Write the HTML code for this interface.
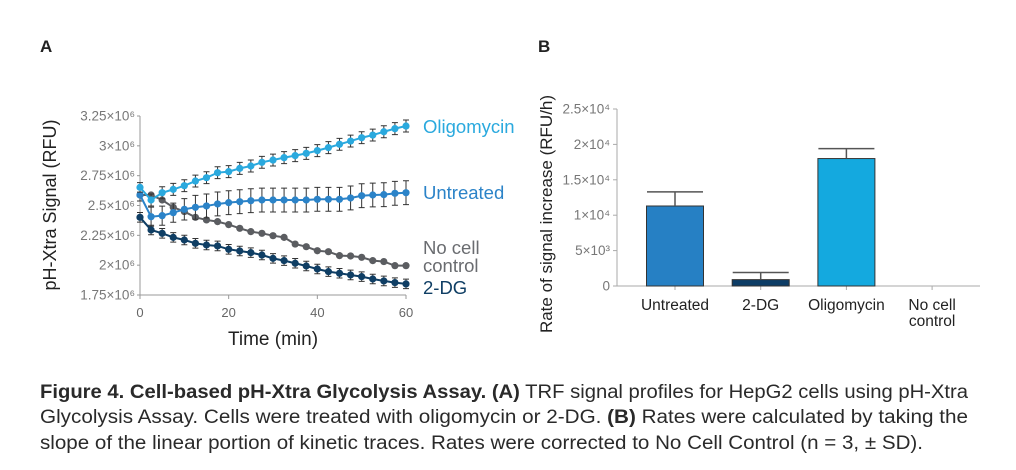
<!DOCTYPE html>
<html><head><meta charset="utf-8"><style>
html,body{margin:0;padding:0;background:#fff;}
svg{display:block;font-family:"Liberation Sans",sans-serif;}
</style></head><body>
<svg id="root" width="1016" height="470">
<text x="40" y="52" font-size="17" font-weight="bold" fill="#222">A</text>
<text x="538" y="52" font-size="17" font-weight="bold" fill="#222">B</text>
<g id="chartA"></g>
<g id="chartB"></g>
<g font-size="19" fill="#2a2a2a">
<text x="40" y="398" textLength="928" lengthAdjust="spacingAndGlyphs"><tspan font-weight="bold">Figure 4. Cell-based pH-Xtra Glycolysis Assay. (A)</tspan> TRF signal profiles for HepG2 cells using pH-Xtra</text>
<text x="40" y="423" textLength="928" lengthAdjust="spacingAndGlyphs">Glycolysis Assay. Cells were treated with oligomycin or 2-DG. <tspan font-weight="bold">(B)</tspan> Rates were calculated by taking the</text>
<text x="40" y="449" textLength="883" lengthAdjust="spacingAndGlyphs">slope of the linear portion of kinetic traces. Rates were corrected to No Cell Control (n = 3, ± SD).</text>
</g>
</svg>
<script>
const times=[0,2.5,5,7.5,10,12.5,15,17.5,20,22.5,25,27.5,30,32.5,35,37.5,40,42.5,45,47.5,50,52.5,55,57.5,60];
const oligo=[2.652,2.546,2.607,2.635,2.666,2.705,2.733,2.775,2.784,2.811,2.831,2.862,2.881,2.901,2.918,2.937,2.960,2.985,3.013,3.040,3.068,3.090,3.118,3.144,3.166];
const oligoErr=[0.04,0.05,0.05,0.05,0.05,0.05,0.05,0.05,0.05,0.05,0.05,0.05,0.05,0.05,0.05,0.05,0.05,0.05,0.05,0.05,0.05,0.05,0.05,0.05,0.05];
const untreated=[2.588,2.406,2.415,2.44,2.468,2.485,2.496,2.513,2.524,2.532,2.54,2.546,2.546,2.546,2.546,2.546,2.552,2.552,2.552,2.563,2.582,2.588,2.591,2.602,2.607];
const untreatedErr=[0.05,0.08,0.08,0.08,0.09,0.1,0.1,0.1,0.1,0.1,0.1,0.1,0.1,0.1,0.1,0.1,0.1,0.1,0.1,0.1,0.1,0.1,0.1,0.1,0.1];
const nocell=[2.588,2.588,2.546,2.485,2.449,2.401,2.379,2.365,2.34,2.309,2.281,2.267,2.247,2.233,2.177,2.155,2.121,2.113,2.08,2.077,2.066,2.038,2.03,1.996,1.996];
const dg=[2.401,2.295,2.267,2.233,2.211,2.183,2.169,2.161,2.133,2.119,2.105,2.085,2.057,2.038,2.016,1.993,1.968,1.946,1.932,1.918,1.904,1.884,1.868,1.854,1.843];
const dgErr=[0.04,0.04,0.04,0.04,0.04,0.04,0.04,0.04,0.04,0.04,0.04,0.04,0.04,0.04,0.04,0.04,0.04,0.04,0.04,0.04,0.04,0.04,0.04,0.04,0.04];
const yTicksA=[1.75,2,2.25,2.5,2.75,3,3.25];
const yTickLabelsA=["1.75×10⁶","2×10⁶","2.25×10⁶","2.5×10⁶","2.75×10⁶","3×10⁶","3.25×10⁶"];
const xTicksA=[0,20,40,60];
const barCats=["Untreated","2-DG","Oligomycin","No cell|control"];
const barVals=[11300,900,18000,0];
const barErrs=[2000,1000,1400,0];
const yTicksB=[0,5000,10000,15000,20000,25000];
const yTickLabelsB=["0","5×10³","1×10⁴","1.5×10⁴","2×10⁴","2.5×10⁴"];

const NS="http://www.w3.org/2000/svg";
function mk(parent,tag,attrs,text){const e=document.createElementNS(NS,tag);for(const k in attrs)e.setAttribute(k,attrs[k]);if(text!=null)e.textContent=text;parent.appendChild(e);return e;}

// Chart A
const A=document.getElementById('chartA');
const xA=t=>140+(t-0)/60*266;
const yA=v=>295-(v-1.75)/1.5*179;
let ax=mk(A,'line',{x1:140,y1:116,x2:140,y2:295,stroke:'#999','stroke-width':1});

ax=mk(A,'line',{x1:140,y1:295,x2:406,y2:295,stroke:'#999','stroke-width':1});

yTicksA.forEach((v,i)=>{
  const y=yA(v);
  mk(A,'line',{x1:137,y1:y,x2:140,y2:y,stroke:'#999'});
  const t=mk(A,'text',{x:135,y:y+4.5,'font-size':13.5,fill:'#777','text-anchor':'end'},yTickLabelsA[i]);
  
  
});
xTicksA.forEach(v=>{
  const x=xA(v);
  mk(A,'line',{x1:x,y1:295,x2:x,y2:299,stroke:'#999'});
  const t=mk(A,'text',{x:x,y:317,'font-size':13,fill:'#666','text-anchor':'middle'},String(v));
  
  
});
let tt=mk(A,'text',{x:273,y:345,'font-size':19,fill:'#222','text-anchor':'middle'},'Time (min)');

tt=mk(A,'text',{x:0,y:0,'font-size':18,fill:'#222','text-anchor':'middle',transform:'translate(56,205) rotate(-90)'},'pH-Xtra Signal (RFU)');


const seriesA=[
 {name:'no-cell-control',vals:nocell,err:null,color:'#5b5d61'},
 {name:'untreated',vals:untreated,err:untreatedErr,color:'#2b83c8'},
 {name:'oligomycin',vals:oligo,err:oligoErr,color:'#2aa9de'},
 {name:'2-dg',vals:dg,err:dgErr,color:'#0f3e64'}];
seriesA.forEach(s=>{
  const g=mk(A,'g',{});
  
  
  if(s.err){s.vals.forEach((v,i)=>{const x=xA(times[i]);const y1=yA(v+s.err[i]),y2=yA(v-s.err[i]);
    mk(g,'path',{d:`M${x},${y1}V${y2}M${x-3},${y1}H${x+3}M${x-3},${y2}H${x+3}`,stroke:'#333','stroke-width':1,fill:'none'});});}
  mk(g,'polyline',{points:s.vals.map((v,i)=>xA(times[i])+','+yA(v)).join(' '),fill:'none',stroke:s.color,'stroke-width':2});
  s.vals.forEach((v,i)=>{const c=mk(g,'circle',{cx:xA(times[i]),cy:yA(v),r:3.6,fill:s.color});
    
    });
});
[['Oligomycin',133,'#2aa9de'],['Untreated',199,'#2b83c8'],['No cell',254,'#6a6c70'],['control',272,'#6a6c70'],['2-DG',294,'#0f3e64']].forEach(l=>{
  const t=mk(A,'text',{x:423,y:l[1],'font-size':18.5,fill:l[2]},l[0]);
  
  
});

// Chart B
const B=document.getElementById('chartB');
const yB=v=>286-v/25000*177;
const xB=i=>675+i*85.7;
ax=mk(B,'line',{x1:617,y1:109,x2:617,y2:286,stroke:'#aaa'});

ax=mk(B,'line',{x1:617,y1:286,x2:980,y2:286,stroke:'#aaa'});

yTicksB.forEach((v,i)=>{const y=yB(v);
  mk(B,'line',{x1:613,y1:y,x2:617,y2:y,stroke:'#aaa'});
  const t=mk(B,'text',{x:610,y:y+4.5,'font-size':13.5,fill:'#777','text-anchor':'end'},yTickLabelsB[i]);
  
  
});
const barColors=['#2680c4','#0d3d66','#14a9df','#ccc'];
barCats.forEach((c,i)=>{
  const x=xB(i);
  mk(B,'line',{x1:x,y1:286,x2:x,y2:290,stroke:'#aaa'});
  if(barVals[i]>0){
    const r=mk(B,'rect',{x:x-28.5,y:yB(barVals[i]),width:57,height:286-yB(barVals[i]),fill:barColors[i],stroke:'#333','stroke-width':1});
    
    
  }
  if(barErrs[i]>0){const y1=yB(barVals[i]+barErrs[i]),y0=yB(barVals[i]);
    mk(B,'path',{d:`M${x},${y0}V${y1}M${x-28},${y1}H${x+28}`,stroke:'#555','stroke-width':1.5,fill:'none'});}
  c.split('|').forEach((p,j)=>{
    const t=mk(B,'text',{x:x,y:310+j*16,'font-size':15.5,fill:'#222','text-anchor':'middle'},p);
    
    
  });
});
tt=mk(B,'text',{x:0,y:0,'font-size':17,fill:'#222','text-anchor':'middle',transform:'translate(552,214) rotate(-90)'},'Rate of signal increase (RFU/h)');

</script>
</body></html>
